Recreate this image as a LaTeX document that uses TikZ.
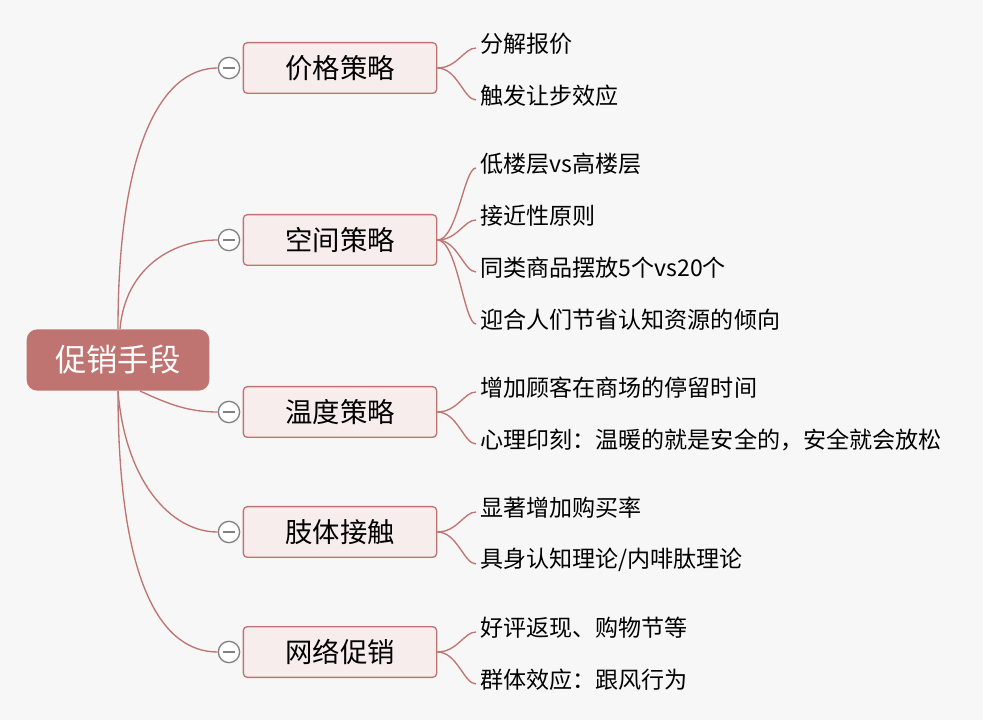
\documentclass[tikz,border=0pt]{standalone}
\usepackage{fontspec}
\setmainfont{Noto Sans CJK SC}
\begin{document}
\begin{tikzpicture}
[ x=0.75pt, y=-0.75pt
, root/.style={rectangle, rounded corners=8pt, fill=rootred, minimum width=137pt, minimum height=46pt, text=white, font=\fontsize{23.5}{27}\selectfont}
, branch/.style={rectangle, rounded corners=3pt, draw=linered, line width=1pt, fill=boxpink, minimum width=145pt, minimum height=38pt, font=\fontsize{20.5}{24}\selectfont}
, leaf/.style={anchor=west, inner sep=0pt, font=\fontsize{17.3}{20}\selectfont}
, toggle/.style={circle, draw=gray, line width=1pt, fill=white, minimum size=16pt, inner sep=0pt}
, link/.style={draw=linered, line width=1pt}
]
\definecolor{rootred}{HTML}{C07472}
\definecolor{linered}{HTML}{C07472}
\definecolor{boxpink}{HTML}{F8EDED}
\fill[white!97!black] (0,0) rectangle (983,720);
\node (root) [root] at (118,360) {促销手段};
% branches
\foreach \name/\y/\txt in {price/68/价格策略, space/240/空间策略, warm/412/温度策略, touch/532/肢体接触, web/652/网络促销}{
  \node (\name) [branch] at (340,\y) {\txt};
  \node (\name-t) [toggle] at (229,\y) {};
  \draw [gray, line width=1pt] ([xshift=-4.5pt]\name-t.center) -- ([xshift=4.5pt]\name-t.center);
}
\draw [link] (118,329) .. controls (118,150) and (160,68) .. (price-t.west);
\draw [link] (120,329) .. controls (125,270) and (170,240) .. (space-t.west);
\draw [link] (140,391) .. controls (170,405) and (190,412) .. (warm-t.west);
\draw [link] (118,391) .. controls (125,480) and (170,532) .. (touch-t.west);
\draw [link] (118,391) .. controls (118,580) and (160,652) .. (web-t.west);
% leaves
\foreach \b/\name/\y/\txt in {price/a/44/分解报价, price/b/96/触发让步效应,
  space/c/164/低楼层vs高楼层, space/d/216/接近性原则, space/e/268/同类商品摆放5个vs20个, space/f/320/迎合人们节省认知资源的倾向,
  warm/g/388/增加顾客在商场的停留时间, warm/h/440/心理印刻：温暖的就是安全的，安全就会放松,
  touch/i/508/显著增加购买率, touch/j/560/{具身认知理论/内啡肽理论},
  web/k/628/好评返现、购物节等, web/l/680/群体效应：跟风行为}{
  \node (\name) [leaf] at (480,\y) {\txt};
  \draw [link] (\b.east) .. controls ([xshift=15pt]\b.east) and ([xshift=-12pt,yshift=-3pt]\name.west) .. ([xshift=-3pt,yshift=-3pt]\name.west);
}
\end{tikzpicture}
\end{document}
